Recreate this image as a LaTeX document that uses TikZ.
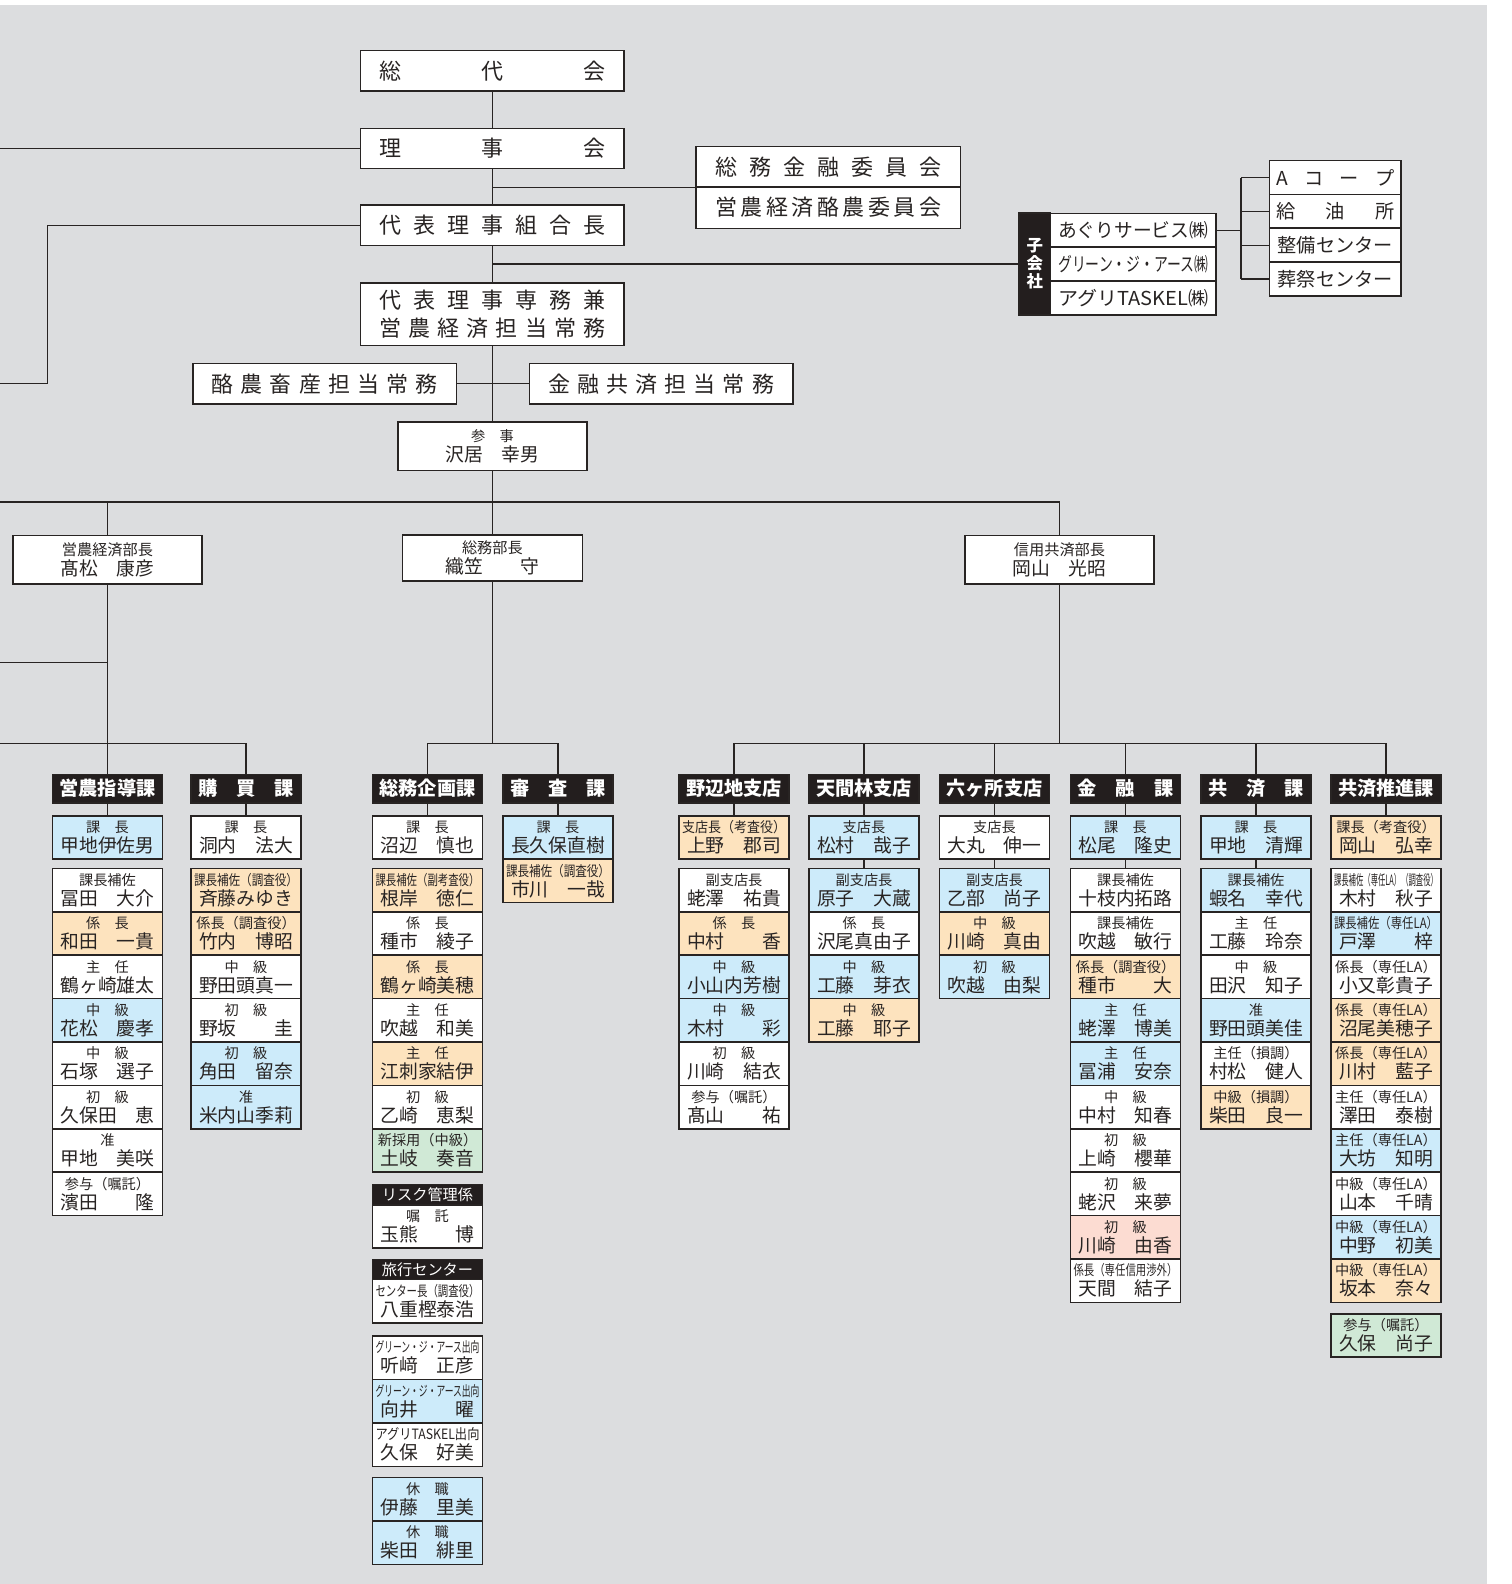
\documentclass[tikz,border=0pt]{standalone}
\usepackage{fontspec}
\setmainfont{Noto Sans CJK JP}
\usepackage{graphicx}
\usepackage{tikz}
\definecolor{bggray}{RGB}{220,221,223}
\definecolor{ink}{RGB}{40,36,35}
\definecolor{hdrblack}{RGB}{35,30,30}
\definecolor{cb}{RGB}{205,235,250}
\definecolor{co}{RGB}{253,227,190}
\definecolor{cg}{RGB}{208,233,214}
\definecolor{cp}{RGB}{252,220,210}
\colorlet{cw}{white}
\newcommand\namefont{\fontsize{9.4}{10}\selectfont}
\newcommand\topfont{\fontsize{11}{14}\selectfont}
\newcommand\hdfont{\fontsize{9.6}{10}\selectfont\bfseries}
\newcommand\nm[2]{\makebox[47pt]{#1\hfill #2}}
\newcommand\hd[1]{\makebox[48pt]{#1}}
\newcommand\spreadto[2]{\makebox[#1]{#2}}
\newcommand\fitto[2]{\resizebox{#1}{\height}{#2}}
\newsavebox\lbbox
\newcommand\lb[1]{\sbox\lbbox{\fontsize{7.1}{7.5}\selectfont #1}\ifdim\wd\lbbox>52pt\resizebox{52pt}{\height}{\usebox\lbbox}\else\usebox\lbbox\fi}
\newcommand\cells[4]{\foreach \fc/\lab/\who [count=\i from 0] in {#4}{\node[cell,fill=\fc] (#1-\i) at (#2,{#3+43.4*\i}) {\lb{\lab}\\\who};}}

\begin{document}
\begin{tikzpicture}[x=0.5pt,y=-0.5pt,text=ink,
  conn/.style={draw=ink,line width=0.65pt},
  box/.style={draw=ink,fill=white,line width=0.75pt,inner sep=0pt,align=center},
  topbox/.style={box,minimum width=131.8pt,minimum height=20.2pt,font=\topfont},
  cell/.style={box,minimum width=55pt,minimum height=21.7pt,anchor=north,font=\namefont},
  hdr/.style={box,fill=hdrblack,text=white,minimum width=55pt,minimum height=14.15pt,anchor=north,font=\hdfont},
  shdr/.style={hdr,minimum height=10.1pt,font=\fontsize{7.6}{8}\selectfont},
  bucho/.style={box,minimum height=24.25pt,font=\namefont},
  listbox/.style={box,minimum height=16.9pt,font=\fontsize{9.6}{10}\selectfont}]
\useasboundingbox (0,0) rectangle (1511,1584);
\fill[bggray] (0,5) rectangle (1487,1584);

\node[topbox] (sodai) at (492.4,70.7) {\spreadto{113pt}{総\hfill 代\hfill 会}};
\node[topbox] (rijikai) at (492.4,148.5) {\spreadto{113pt}{理\hfill 事\hfill 会}};
\node[topbox] (kumiai) at (492.4,225.2) {\spreadto{113pt}{代\hfill 表\hfill 理\hfill 事\hfill 組\hfill 合\hfill 長}};
\node[topbox,minimum height=31.3pt] (senmu) at (492.4,314.1) {\spreadto{113pt}{代\hfill 表\hfill 理\hfill 事\hfill 専\hfill 務\hfill 兼}\\\spreadto{113pt}{営\hfill 農\hfill 経\hfill 済\hfill 担\hfill 当\hfill 常\hfill 務}};
\node[topbox] (rakuno) at (324.7,383.8) {\spreadto{113pt}{酪\hfill 農\hfill 畜\hfill 産\hfill 担\hfill 当\hfill 常\hfill 務}};
\node[topbox] (kinyu) at (661.1,383.8) {\spreadto{113pt}{金\hfill 融\hfill 共\hfill 済\hfill 担\hfill 当\hfill 常\hfill 務}};
\node[topbox,minimum width=132.3pt] (iin1) at (828.2,166.7) {\spreadto{113pt}{総\hfill 務\hfill 金\hfill 融\hfill 委\hfill 員\hfill 会}};
\node[topbox,minimum width=132.3pt,minimum height=20.7pt] (iin2) at (828.2,207.6) {\spreadto{113pt}{営\hfill 農\hfill 経\hfill 済\hfill 酪\hfill 農\hfill 委\hfill 員\hfill 会}};
\node[bucho,minimum width=94.4pt] (sanji) at (492.4,446.4) {\lb{参　事}\\\nm{沢居}{幸男}};

\node[box,fill=hdrblack,text=white,minimum width=15.65pt,minimum height=51pt,font=\fontsize{8.2}{9}\selectfont\bfseries] (kogai) at (1034.8,264.1) {子\\会\\社};
\node[listbox,minimum width=82.8pt] (co1) at (1133.2,230.25) {\fitto{75pt}{あぐりサービス㈱}};
\node[listbox,minimum width=82.8pt] (co2) at (1133.2,264.1) {\fitto{75pt}{グリーン・ジ・アース㈱}};
\node[listbox,minimum width=82.8pt] (co3) at (1133.2,297.95) {\fitto{75pt}{アグリTASKEL㈱}};
\node[listbox,minimum width=65.65pt] (ac1) at (1335.25,177.5) {\spreadto{59pt}{A\hfill コ\hfill ー\hfill プ}};
\node[listbox,minimum width=65.65pt] (ac2) at (1335.25,211.3) {\spreadto{59pt}{給\hfill 油\hfill 所}};
\node[listbox,minimum width=65.65pt] (ac3) at (1335.25,245.2) {\spreadto{59pt}{整備センター}};
\node[listbox,minimum width=65.65pt] (ac4) at (1335.25,279.05) {\spreadto{59pt}{葬祭センター}};

\node[bucho,minimum width=94.5pt] (b1) at (107.5,559.6) {{\fontsize{7.6}{8}\selectfont 営農経済部長}\\\nm{髙松}{康彦}};
\node[bucho,minimum width=90pt,minimum height=23pt] (b2) at (492.4,558) {{\fontsize{7.6}{8}\selectfont 総務部長}\\\nm{織笠}{守}};
\node[bucho,minimum width=94.5pt] (b3) at (1059.5,559.6) {{\fontsize{7.6}{8}\selectfont 信用共済部長}\\\nm{岡山}{光昭}};

\node[hdr] (h1) at (107.5,773.7) {\hd{営農指導課}};
\node[hdr] (h2) at (246,773.7) {\hd{購\hfill 買\hfill 課}};
\node[hdr] (h3) at (427.5,773.7) {\hd{総務企画課}};
\node[hdr] (h4) at (558,773.7) {\hd{審\hfill 査\hfill 課}};
\node[hdr] (h5) at (734,773.7) {\hd{野辺地支店}};
\node[hdr] (h6) at (864,773.7) {\hd{天間林支店}};
\node[hdr] (h7) at (994.5,773.7) {\hd{六ヶ所支店}};
\node[hdr] (h8) at (1125.5,773.7) {\hd{金\hfill 融\hfill 課}};
\node[hdr] (h9) at (1256,773.7) {\hd{共\hfill 済\hfill 課}};
\node[hdr] (h10) at (1386,773.7) {\hd{共済推進課}};

\cells{head1}{107.5}{815}{cb/課　長/甲地伊佐男}
\cells{grp1}{107.5}{867.6}{cw/課長補佐/\nm{冨田}{大介},
  co/係　長/\nm{和田}{一貴},
  cw/主　任/鶴ヶ崎雄太,
  cb/中　級/\nm{花松}{慶孝},
  cw/中　級/\nm{石塚}{選子},
  cw/初　級/\nm{久保田}{恵},
  cw/准/\nm{甲地}{美咲},
  cw/参与（嘱託）/\nm{濱田}{隆}}
\cells{head2}{246}{815}{cw/課　長/\nm{洞内}{法大}}
\cells{grp2}{246}{867.6}{co/課長補佐（調査役）/斉藤みゆき,
  co/係長（調査役）/\nm{竹内}{博昭},
  cw/中　級/野田頭真一,
  cw/初　級/\nm{野坂}{圭},
  cb/初　級/\nm{角田}{留奈},
  cb/准/米内山季莉}
\cells{head3}{427.5}{815}{cw/課　長/\nm{沼辺}{慎也}}
\cells{grp3}{427.5}{867.6}{co/課長補佐（副考査役）/\nm{根岸}{徳仁},
  cw/係　長/\nm{種市}{綾子},
  co/係　長/鶴ヶ崎美穂,
  cw/主　任/\nm{吹越}{和美},
  co/主　任/江刺家結伊,
  cw/初　級/\nm{乙崎}{恵梨},
  cg/新採用（中級）/\nm{土岐}{奏音}}
\node[shdr] (risk) at (427.5,1183.8) {リスク管理係};
\cells{riskc}{427.5}{1204}{cw/嘱　託/\nm{玉熊}{博}}
\node[shdr] (travel) at (427.5,1258.5) {旅行センター};
\cells{travelc}{427.5}{1278.7}{cw/センター長（調査役）/八重樫泰浩}
\cells{shukko}{427.5}{1335.3}{cw/グリーン・ジ・アース出向/\nm{听﨑}{正彦},
  cb/グリーン・ジ・アース出向/\nm{向井}{曜},
  cw/アグリTASKEL出向/\nm{久保}{好美}}
\cells{kyushoku}{427.5}{1476.7}{cb/休　職/\nm{伊藤}{里美},
  cb/休　職/\nm{柴田}{緋里}}
\cells{head4}{558}{815}{cb/課　長/長久保直樹,
  co/課長補佐（調査役）/\nm{市川}{一哉}}
\cells{head5}{734}{815}{co/支店長（考査役）/\nm{上野}{郡司}}
\cells{grp5}{734}{867.6}{cw/副支店長/\nm{蛯澤}{祐貴},
  co/係　長/\nm{中村}{香},
  cb/中　級/小山内芳樹,
  cb/中　級/\nm{木村}{彩},
  cw/初　級/\nm{川崎}{結衣},
  cw/参与（嘱託）/\nm{髙山}{祐}}
\cells{head6}{864}{815}{cb/支店長/\nm{松村}{哉子}}
\cells{grp6}{864}{867.6}{cb/副支店長/\nm{原子}{大蔵},
  cw/係　長/沢尾真由子,
  cb/中　級/\nm{工藤}{芽衣},
  co/中　級/\nm{工藤}{耶子}}
\cells{head7}{994.5}{815}{cw/支店長/\nm{大丸}{伸一}}
\cells{grp7}{994.5}{867.6}{cb/副支店長/\nm{乙部}{尚子},
  co/中　級/\nm{川崎}{真由},
  cb/初　級/\nm{吹越}{由梨}}
\cells{head8}{1125.5}{815}{cb/課　長/\nm{松尾}{隆史}}
\cells{grp8}{1125.5}{867.6}{cw/課長補佐/十枝内拓路,
  cw/課長補佐/\nm{吹越}{敏行},
  co/係長（調査役）/\nm{種市}{大},
  cb/主　任/\nm{蛯澤}{博美},
  cb/主　任/\nm{冨浦}{安奈},
  cw/中　級/\nm{中村}{知春},
  cw/初　級/\nm{上崎}{櫻華},
  cw/初　級/\nm{蛯沢}{来夢},
  cp/初　級/\nm{川崎}{由香},
  cw/係長（専任信用渉外）/\nm{天間}{結子}}
\cells{head9}{1256}{815}{cb/課　長/\nm{甲地}{清輝}}
\cells{grp9}{1256}{867.6}{cb/課長補佐/\nm{蝦名}{幸代},
  cw/主　任/\nm{工藤}{玲奈},
  cw/中　級/\nm{田沢}{知子},
  cb/准/野田頭美佳,
  cw/主任（損調）/\nm{村松}{健人},
  co/中級（損調）/\nm{柴田}{良一}}
\cells{head10}{1386}{815}{co/課長（考査役）/\nm{岡山}{弘幸}}
\cells{grp10}{1386}{867.6}{cw/課長補佐（専任LA）（調査役）/\nm{木村}{秋子},
  cb/課長補佐（専任LA）/\nm{戸澤}{梓},
  cw/係長（専任LA）/小又彰貴子,
  co/係長（専任LA）/沼尾美穂子,
  co/係長（専任LA）/\nm{川村}{藍子},
  cw/主任（専任LA）/\nm{澤田}{泰樹},
  cb/主任（専任LA）/\nm{大坊}{知明},
  cw/中級（専任LA）/\nm{山本}{千晴},
  cb/中級（専任LA）/\nm{中野}{初美},
  co/中級（専任LA）/\nm{坂本}{奈々}}
\cells{sanyo}{1386}{1313}{cg/参与（嘱託）/\nm{久保}{尚子}}

\coordinate (w0) at (0,148.5);
\coordinate (w1) at (0,383.8);
\coordinate (bend1) at (47.5,383.8);
\coordinate (w2) at (0,502);
\coordinate (w3) at (0,662.6);
\coordinate (w4) at (0,743.4);
\coordinate (br) at (1241,230.25);
\draw[conn] (sodai) -- (rijikai) -- (kumiai) -- (senmu) -- (sanji);
\draw[conn] (w0) -- (rijikai.west);
\draw[conn] (kumiai.west) -| (bend1) -- (w1);
\draw[conn] (iin1.south west -| sodai) -- (iin1.south west);
\draw[conn] (kogai.west -| sodai) -- (kogai.west);
\draw[conn] (rakuno.east) -- (kinyu.west);
\draw[conn] (co1.east) -- (co1.east -| br);
\draw[conn] (ac1.west -| br) -- (ac4.west -| br);
\foreach \k in {1,...,4} \draw[conn] (ac\k.west -| br) -- (ac\k.west);
\draw[conn] (sanji) -- (sanji |- w2);
\draw[conn] (w2) -- (b3.north |- w2) -- (b3.north);
\draw[conn] (b1.north) -- (b1.north |- w2);
\draw[conn] (b2.north) -- (b2.north |- w2);
\draw[conn] (b1) -- (h1);
\draw[conn] (w3) -- (w3 -| b1);
\draw[conn] (w4) -- (w4 -| h2.north) -- (h2.north);
\draw[conn] (b2) -- (b2 |- w4);
\draw[conn] (h3.north) -- (h3.north |- w4) -- (h4.north |- w4) -- (h4.north);
\draw[conn] (b3) -- (b3 |- w4);
\draw[conn] (h5.north) -- (h5.north |- w4) -- (h10.north |- w4) -- (h10.north);
\foreach \k in {6,...,9} \draw[conn] (h\k.north) -- (h\k.north |- w4);
\foreach \k in {1,...,10} \draw[conn] (h\k) -- (head\k-0);
\foreach \k in {6,...,9} \draw[conn] (head\k-0) -- (grp\k-0);
\end{tikzpicture}
\end{document}
